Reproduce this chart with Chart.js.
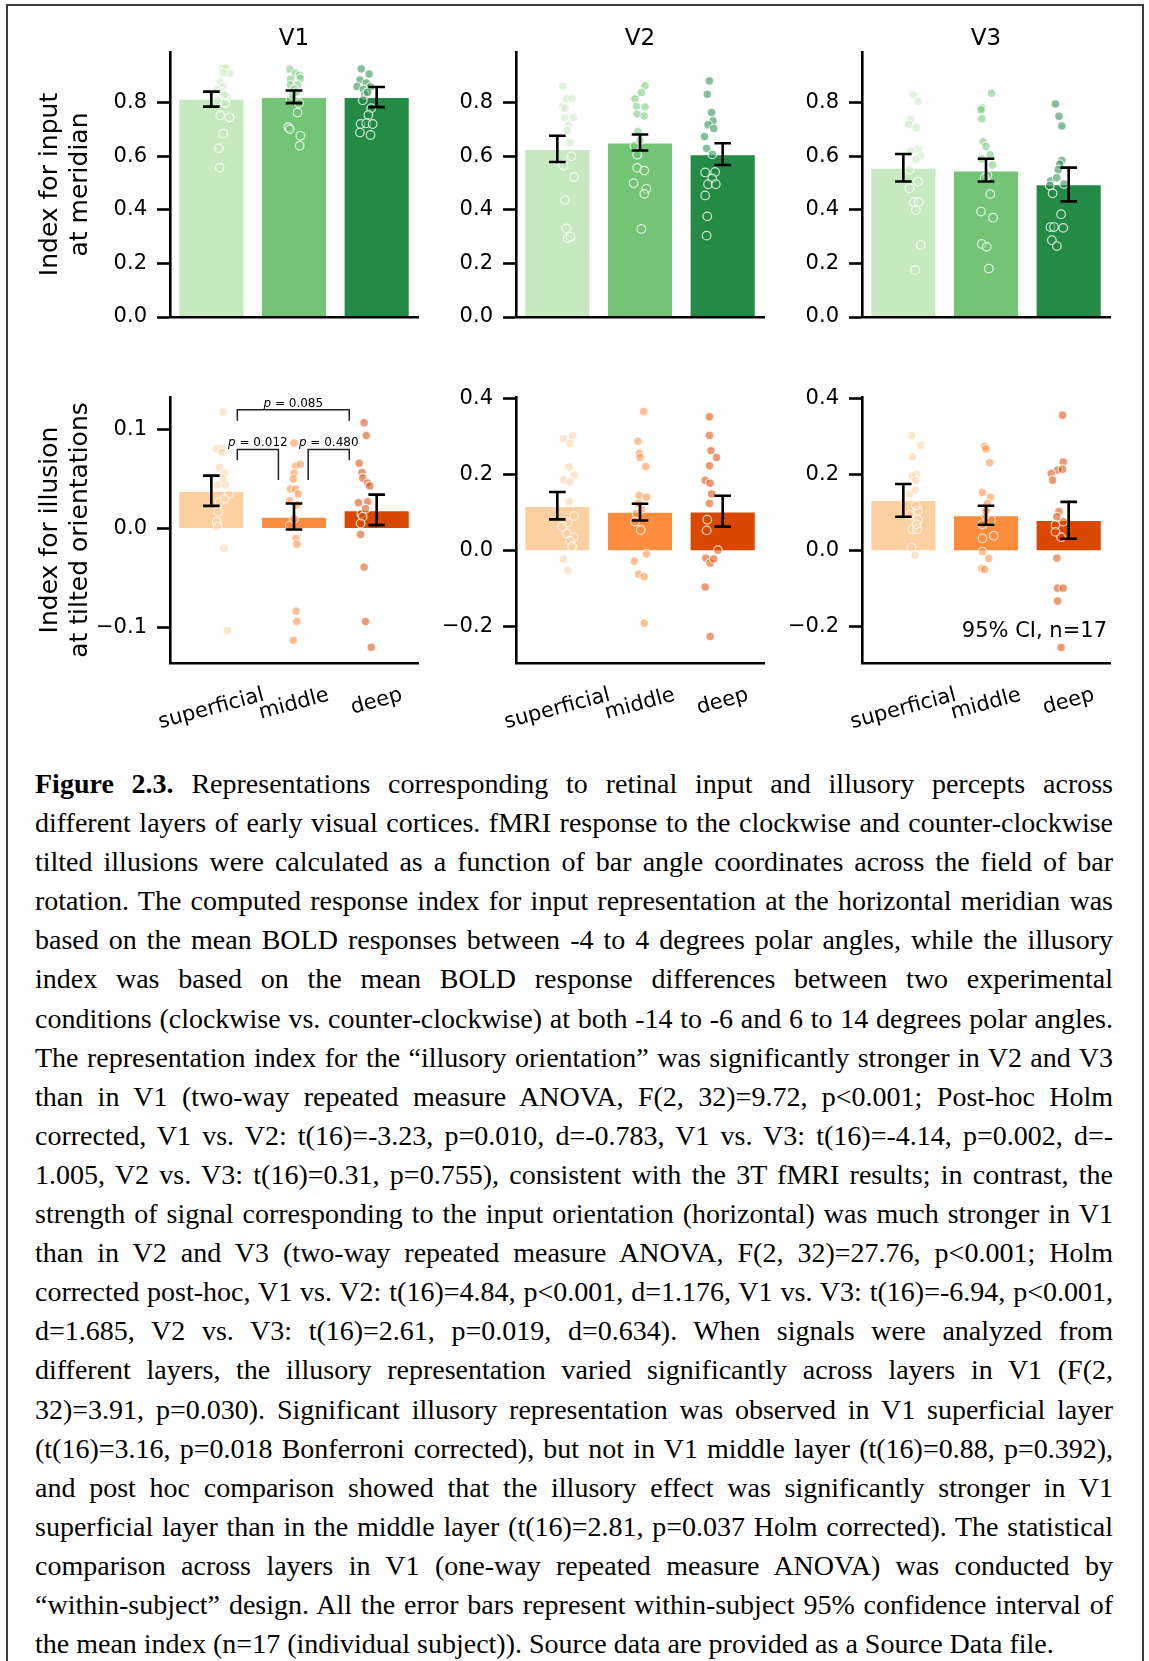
<!DOCTYPE html>
<html><head><meta charset="utf-8">
<script src="https://cdn.jsdelivr.net/npm/chart.js@4.4.0/dist/chart.umd.min.js"></script>
<style>
html,body{margin:0;padding:0;background:#fff;width:1149px;height:1661px;overflow:hidden;}
#frame{position:absolute;left:6px;top:4px;width:1138px;height:1700px;border:2px solid #3c3c3c;box-sizing:border-box;}
canvas{position:absolute;}
#caption{position:absolute;left:35px;top:764px;width:1078px;font-family:'Liberation Serif','Times New Roman',serif;font-size:28px;line-height:39.1px;color:#000;}
#caption div{text-align:justify;text-align-last:justify;}
#caption div.last{text-align-last:left;}
</style></head><body>
<div id="frame"></div>
<div id="caption">
<div><b>Figure 2.3.</b> Representations corresponding to retinal input and illusory percepts across</div>
<div>different layers of early visual cortices. fMRI response to the clockwise and counter-clockwise</div>
<div>tilted illusions were calculated as a function of bar angle coordinates across the field of bar</div>
<div>rotation. The computed response index for input representation at the horizontal meridian was</div>
<div>based on the mean BOLD responses between -4 to 4 degrees polar angles, while the illusory</div>
<div>index was based on the mean BOLD response differences between two experimental</div>
<div>conditions (clockwise vs. counter-clockwise) at both -14 to -6 and 6 to 14 degrees polar angles.</div>
<div>The representation index for the “illusory orientation” was significantly stronger in V2 and V3</div>
<div>than in V1 (two-way repeated measure ANOVA, F(2, 32)=9.72, p&lt;0.001; Post-hoc Holm</div>
<div>corrected, V1 vs. V2: t(16)=-3.23, p=0.010, d=-0.783, V1 vs. V3: t(16)=-4.14, p=0.002, d=-</div>
<div>1.005, V2 vs. V3: t(16)=0.31, p=0.755), consistent with the 3T fMRI results; in contrast, the</div>
<div>strength of signal corresponding to the input orientation (horizontal) was much stronger in V1</div>
<div>than in V2 and V3 (two-way repeated measure ANOVA, F(2, 32)=27.76, p&lt;0.001; Holm</div>
<div>corrected post-hoc, V1 vs. V2: t(16)=4.84, p&lt;0.001, d=1.176, V1 vs. V3: t(16)=-6.94, p&lt;0.001,</div>
<div>d=1.685, V2 vs. V3: t(16)=2.61, p=0.019, d=0.634). When signals were analyzed from</div>
<div>different layers, the illusory representation varied significantly across layers in V1 (F(2,</div>
<div>32)=3.91, p=0.030). Significant illusory representation was observed in V1 superficial layer</div>
<div>(t(16)=3.16, p=0.018 Bonferroni corrected), but not in V1 middle layer (t(16)=0.88, p=0.392),</div>
<div>and post hoc comparison showed that the illusory effect was significantly stronger in V1</div>
<div>superficial layer than in the middle layer (t(16)=2.81, p=0.037 Holm corrected). The statistical</div>
<div>comparison across layers in V1 (one-way repeated measure ANOVA) was conducted by</div>
<div>“within-subject” design. All the error bars represent within-subject 95% confidence interval of</div>
<div class="last">the mean index (n=17 (individual subject)). Source data are provided as a Source Data file.</div>
</div>
<script>
// ---------------- DATA ----------------
const layers = ['superficial', 'middle', 'deep'];
const regions = ['V1', 'V2', 'V3'];
const greens = ['#c7e9c0', '#74c476', '#238b45'];
const oranges = ['#fdd0a2', '#fd8d3c', '#d94801'];
const inputTicks = [0, 0.2, 0.4, 0.6, 0.8];
const illusionTicksV1 = [-0.1, 0, 0.1];
const illusionTicksV23 = [-0.2, 0, 0.2, 0.4];

// bar means and 95% CI (lower, upper)
const inputMeanV1 = [0.815, 0.822, 0.822];
const inputLoV1 = [0.786, 0.799, 0.784];
const inputHiV1 = [0.842, 0.846, 0.859];
const inputMeanV2 = [0.628, 0.652, 0.608];
const inputLoV2 = [0.579, 0.622, 0.568];
const inputHiV2 = [0.677, 0.682, 0.649];
const inputMeanV3 = [0.558, 0.547, 0.496];
const inputLoV3 = [0.506, 0.506, 0.432];
const inputHiV3 = [0.609, 0.591, 0.558];
const illusMeanV1 = [0.038, 0.0118, 0.0185];
const illusLoV1 = [0.0229, -0.001, 0.0034];
const illusHiV1 = [0.0535, 0.0253, 0.0343];
const illusMeanV2 = [0.118, 0.103, 0.104];
const illusLoV2 = [0.083, 0.080, 0.064];
const illusHiV2 = [0.155, 0.124, 0.145];
const illusMeanV3 = [0.134, 0.094, 0.081];
const illusLoV3 = [0.090, 0.069, 0.032];
const illusHiV3 = [0.176, 0.119, 0.129];

// individual subjects (n=17) and their horizontal strip offsets
const inputV1Sup = [0.930,0.930,0.910,0.913,0.876,0.859,0.851,0.824,0.810,0.800,0.840,0.753,0.746,0.685,0.630,0.558,0.830];
const inputV1SupJit = [0.00,0.04,0.10,0.00,-0.04,0.00,-0.09,0.06,-0.08,0.03,-0.02,-0.04,0.09,0.00,-0.06,-0.05,0.02];
const inputV1Mid = [0.926,0.911,0.903,0.888,0.891,0.867,0.867,0.851,0.811,0.799,0.764,0.709,0.702,0.677,0.640,0.830,0.840];
const inputV1MidJit = [-0.06,0.02,0.08,-0.05,0.09,-0.05,0.05,0.01,-0.05,0.07,0.05,-0.08,-0.06,0.09,0.08,-0.02,0.03];
const inputV1Deep = [0.927,0.908,0.886,0.874,0.861,0.859,0.850,0.780,0.755,0.721,0.724,0.721,0.689,0.680,0.830,0.810,0.840];
const inputV1DeepJit = [-0.05,0.06,-0.07,0.02,-0.11,0.08,-0.02,0.09,0.05,-0.06,0.02,0.11,-0.07,0.08,0.00,-0.03,0.04];
const inputV2Sup = [0.862,0.816,0.816,0.785,0.780,0.745,0.745,0.718,0.697,0.566,0.523,0.437,0.331,0.294,0.300,0.650,0.600];
const inputV2SupJit = [-0.09,-0.04,0.04,-0.09,-0.06,-0.06,0.06,-0.01,-0.03,-0.08,0.07,-0.06,-0.04,-0.02,0.02,0.01,0.03];
const inputV2Mid = [0.864,0.839,0.815,0.786,0.785,0.759,0.751,0.693,0.641,0.606,0.557,0.547,0.500,0.479,0.460,0.329,0.660];
const inputV2MidJit = [0.07,0.02,-0.07,-0.05,0.07,-0.04,0.06,-0.03,-0.08,-0.04,-0.04,0.06,-0.09,0.09,0.06,0.02,0.00];
const inputV2Deep = [0.882,0.832,0.764,0.733,0.718,0.704,0.674,0.630,0.608,0.540,0.542,0.518,0.496,0.496,0.454,0.376,0.304];
const inputV2DeepJit = [-0.02,-0.05,0.01,0.03,-0.04,0.04,-0.09,-0.06,0.02,-0.08,0.06,0.02,-0.04,0.07,-0.08,-0.05,-0.06];
const inputV3Sup = [0.830,0.805,0.739,0.719,0.707,0.627,0.620,0.602,0.550,0.506,0.481,0.429,0.429,0.399,0.269,0.176,0.590];
const inputV3SupJit = [-0.03,0.04,-0.06,-0.09,0.02,0.04,-0.06,0.08,-0.08,0.04,-0.08,-0.02,0.05,0.01,0.08,0.00,0.01];
const inputV3Mid = [0.836,0.781,0.774,0.741,0.655,0.637,0.606,0.568,0.590,0.459,0.394,0.371,0.273,0.262,0.181,0.530,0.520];
const inputV3MidJit = [0.08,-0.06,-0.07,-0.06,-0.04,0.00,0.06,0.09,-0.06,0.06,-0.07,0.10,-0.06,0.01,0.04,0.02,-0.02];
const inputV3Deep = [0.796,0.750,0.714,0.585,0.571,0.508,0.491,0.497,0.462,0.384,0.336,0.336,0.333,0.287,0.265,0.550,0.520];
const inputV3DeepJit = [-0.02,0.03,0.07,0.07,0.04,-0.09,-0.10,0.10,-0.06,0.06,-0.09,-0.04,0.09,-0.07,0.00,0.02,0.00];

const illusV1Sup = [0.118,0.081,0.081,0.077,0.062,0.056,0.044,0.044,-0.103,-0.020,0.035,0.027,0.017,0.007,0.002,0.050,0.030];
const illusV1SupJit = [0.00,-0.10,-0.01,-0.02,-0.05,0.02,-0.08,0.03,0.06,0.01,0.08,-0.05,-0.07,-0.09,-0.08,0.00,0.02];
const illusV1Mid = [0.0865,0.063,0.065,0.056,0.050,0.040,0.040,0.035,0.028,0.024,-0.010,-0.016,-0.0835,-0.094,-0.113,0.003,0.010];
const illusV1MidJit = [0.00,0.02,0.09,0.00,-0.01,-0.05,0.02,0.06,-0.06,0.04,0.03,0.04,0.03,0.04,-0.01,-0.06,0.00];
const illusV1Deep = [0.107,0.094,0.066,0.0566,0.051,0.046,0.043,0.026,0.027,-0.006,-0.039,-0.094,-0.120,0.015,0.012,0.005,0.020];
const illusV1DeepJit = [-0.01,0.02,-0.08,-0.04,-0.03,0.04,0.07,-0.09,0.04,-0.06,-0.01,0.01,0.09,-0.05,-0.03,-0.06,0.01];
const illusV2Sup = [0.304,0.295,0.283,0.221,0.200,0.187,0.182,-0.021,-0.051,0.092,0.075,0.064,0.046,0.036,0.027,0.011,0.130];
const illusV2SupJit = [0.05,-0.08,0.01,0.00,0.07,-0.08,0.01,-0.08,-0.02,0.07,-0.02,-0.10,-0.03,0.06,0.01,0.04,0.00];
const illusV2Mid = [0.367,0.289,0.257,0.246,0.222,0.146,0.141,-0.008,-0.027,-0.061,-0.068,-0.190,0.077,0.099,0.055,0.110,0.125];
const illusV2MidJit = [0.05,-0.03,-0.01,0.00,0.08,-0.01,0.09,0.09,-0.08,-0.02,0.06,0.06,-0.07,-0.05,0.01,0.02,-0.02];
const illusV2Deep = [0.353,0.304,0.264,0.246,0.224,0.186,0.178,0.150,0.125,-0.019,-0.032,-0.021,-0.095,-0.225,0.082,0.054,0.002];
const illusV2DeepJit = [-0.02,-0.02,0.00,0.08,-0.02,-0.08,-0.01,0.01,-0.02,-0.07,-0.01,0.04,-0.08,-0.01,-0.05,-0.06,0.10];
const illusV3Sup = [0.304,0.278,0.248,0.202,0.197,0.185,0.150,-0.011,0.095,0.106,0.082,0.057,0.057,0.009,0.120,0.160,0.070];
const illusV3SupJit = [-0.05,0.08,-0.04,0.02,-0.04,0.01,-0.08,0.00,-0.08,0.04,0.04,-0.04,0.03,-0.05,0.01,0.00,0.02];
const illusV3Mid = [0.275,0.268,0.232,0.154,0.141,0.125,-0.002,-0.020,-0.046,-0.049,0.082,0.070,0.040,0.033,0.095,0.110,0.105];
const illusV3MidJit = [-0.02,0.00,0.05,-0.05,0.06,0.02,-0.05,0.04,-0.06,-0.02,0.07,-0.05,0.11,-0.05,-0.01,0.01,0.00];
const illusV3Deep = [0.357,0.234,0.213,0.215,0.204,0.186,0.104,-0.019,-0.098,-0.098,-0.132,-0.254,0.077,0.068,0.036,0.090,0.050];
const illusV3DeepJit = [0.08,0.09,0.01,0.08,-0.08,-0.06,0.03,0.00,0.01,0.09,0.01,0.06,0.09,-0.02,0.06,0.00,-0.02];

// V1 illusion: pairwise comparisons [layer i, layer j, p-value]
const sigPairs = [[0, 1, '0.012'], [1, 2, '0.480'], [0, 2, '0.085']];
const ciNote = '95% CI, n=17';

// ---------------- DRAWING ----------------
Chart.defaults.font.family = "'DejaVu Sans', sans-serif";
Chart.defaults.color = '#000';
const FONT = "'DejaVu Sans', sans-serif";

function fmtTick(v) {
  const s = (Math.abs(v) < 1e-9 ? 0 : v).toFixed(1);
  return s.replace('-', '\u2212');
}
function hexA(hex, a) {
  const r = parseInt(hex.slice(1, 3), 16), g = parseInt(hex.slice(3, 5), 16), b = parseInt(hex.slice(5, 7), 16);
  return 'rgba(' + r + ',' + g + ',' + b + ',' + a + ')';
}

// bracket geometry (values in data units) for the V1 illusion panel
const bracketStyle = [
  {top: 0.080, left: 0.069, right: 0.049},
  {top: 0.080, left: 0.049, right: 0.069},
  {top: 0.120, left: 0.109, right: 0.109}
];

function makeDecor(p) {
  return {
    id: 'decor',
    afterDatasetsDraw(chart) {
      const ctx = chart.ctx, ys = chart.scales.y, xs = chart.scales.x;
      ctx.save();
      ctx.strokeStyle = '#000'; ctx.lineWidth = 2.6; ctx.lineCap = 'butt';
      for (let i = 0; i < 3; i++) {
        const x = xs.getPixelForValue(i);
        const yl = ys.getPixelForValue(p.lo[i]), yh = ys.getPixelForValue(p.hi[i]);
        ctx.beginPath();
        ctx.moveTo(x, yl); ctx.lineTo(x, yh);
        ctx.moveTo(x - 8.3, yl); ctx.lineTo(x + 8.3, yl);
        ctx.moveTo(x - 8.3, yh); ctx.lineTo(x + 8.3, yh);
        ctx.stroke();
      }
      ctx.restore();
    },
    afterDraw(chart) {
      const ctx = chart.ctx, ca = chart.chartArea, xs = chart.scales.x, ys = chart.scales.y, xj = chart.scales.xj;
      ctx.save();
      ctx.fillStyle = '#000';
      if (p.title) {
        ctx.font = '23px ' + FONT;
        ctx.textAlign = 'center'; ctx.textBaseline = 'alphabetic';
        ctx.fillText(p.title, (ca.left + ca.right) / 2, ca.top - 7.5);
      }
      if (p.ylabel) {
        ctx.font = '25px ' + FONT;
        const cy = (ca.top + ca.bottom) / 2;
        p.ylabel.forEach((line, k) => {
          ctx.save();
          ctx.translate(ca.left - 113.3 + k * 30.6, cy);
          ctx.rotate(-Math.PI / 2);
          ctx.textAlign = 'center'; ctx.textBaseline = 'alphabetic';
          ctx.fillText(line, 0, 0);
          ctx.restore();
        });
      }
      if (p.xlabels) {
        ctx.font = '21px ' + FONT;
        const th = 15 * Math.PI / 180;
        layers.forEach((lab, i) => {
          const x = xs.getPixelForValue(i);
          const w = ctx.measureText(lab).width;
          const bh = w * Math.sin(th) + 21 * 1.17 * Math.cos(th);
          const cy = ca.bottom + 20 + bh / 2;
          ctx.save();
          ctx.translate(x, cy); ctx.rotate(-th);
          ctx.textAlign = 'center'; ctx.textBaseline = 'middle';
          ctx.fillText(lab, 0, 0);
          ctx.restore();
        });
      }
      if (p.brackets) {
        ctx.strokeStyle = '#222'; ctx.lineWidth = 1.5;
        sigPairs.forEach((sp, k) => {
          const g = bracketStyle[k];
          const x1 = xj.getPixelForValue(sp[0] + 0.2), x2 = xj.getPixelForValue(sp[1] - 0.22);
          const yt = ys.getPixelForValue(g.top), yl = ys.getPixelForValue(g.left), yr = ys.getPixelForValue(g.right);
          ctx.beginPath();
          ctx.moveTo(x1, yl); ctx.lineTo(x1, yt); ctx.lineTo(x2, yt); ctx.lineTo(x2, yr);
          ctx.stroke();
          ctx.font = 'italic 12px ' + FONT;
          const wp = ctx.measureText('p').width;
          ctx.font = '12px ' + FONT;
          const rest = ' = ' + sp[2];
          const wr = ctx.measureText(rest).width;
          const x0 = (x1 + x2) / 2 - (wp + wr) / 2;
          ctx.textAlign = 'left'; ctx.textBaseline = 'alphabetic';
          ctx.font = 'italic 12px ' + FONT;
          ctx.fillText('p', x0, yt - 3);
          ctx.font = '12px ' + FONT;
          ctx.fillText(rest, x0 + wp, yt - 3);
        });
      }
      if (p.note) {
        ctx.font = '21px ' + FONT;
        ctx.textAlign = 'right'; ctx.textBaseline = 'alphabetic';
        ctx.fillText(p.note, ca.right - 3, ca.bottom - 26);
      }
      ctx.restore();
    }
  };
}

const topRow = {top: 0, height: 340, padTop: 52, xHeight: 23, min: 0, max: 0.99};
const panels = [
  {axisX: 170, row: topRow, title: 'V1', ylabel: ['Index for input', 'at meridian'], colors: greens, ticks: inputTicks,
   mean: inputMeanV1, lo: inputLoV1, hi: inputHiV1, subj: [inputV1Sup, inputV1Mid, inputV1Deep], jit: [inputV1SupJit, inputV1MidJit, inputV1DeepJit]},
  {axisX: 516, row: topRow, title: 'V2', colors: greens, ticks: inputTicks,
   mean: inputMeanV2, lo: inputLoV2, hi: inputHiV2, subj: [inputV2Sup, inputV2Mid, inputV2Deep], jit: [inputV2SupJit, inputV2MidJit, inputV2DeepJit]},
  {axisX: 862, row: topRow, title: 'V3', colors: greens, ticks: inputTicks,
   mean: inputMeanV3, lo: inputLoV3, hi: inputHiV3, subj: [inputV3Sup, inputV3Mid, inputV3Deep], jit: [inputV3SupJit, inputV3MidJit, inputV3DeepJit]},
  {axisX: 170, row: {top: 370, height: 380, padTop: 27, xHeight: 87, min: -0.136, max: 0.133}, ylabel: ['Index for illusion', 'at tilted orientations'],
   colors: oranges, ticks: illusionTicksV1, xlabels: true, brackets: true,
   mean: illusMeanV1, lo: illusLoV1, hi: illusHiV1, subj: [illusV1Sup, illusV1Mid, illusV1Deep], jit: [illusV1SupJit, illusV1MidJit, illusV1DeepJit]},
  {axisX: 516, row: {top: 370, height: 380, padTop: 27, xHeight: 87, min: -0.295, max: 0.405},
   colors: oranges, ticks: illusionTicksV23, xlabels: true,
   mean: illusMeanV2, lo: illusLoV2, hi: illusHiV2, subj: [illusV2Sup, illusV2Mid, illusV2Deep], jit: [illusV2SupJit, illusV2MidJit, illusV2DeepJit]},
  {axisX: 862, row: {top: 370, height: 380, padTop: 27, xHeight: 87, min: -0.295, max: 0.405},
   colors: oranges, ticks: illusionTicksV23, xlabels: true, note: ciNote,
   mean: illusMeanV3, lo: illusLoV3, hi: illusHiV3, subj: [illusV3Sup, illusV3Mid, illusV3Deep], jit: [illusV3SupJit, illusV3MidJit, illusV3DeepJit]}
];

const YW = 165, RPAD = 12, CW = YW + 248 + RPAD;
panels.forEach(p => {
  const cv = document.createElement('canvas');
  cv.width = CW; cv.height = p.row.height;
  cv.style.left = (p.axisX - YW) + 'px';
  cv.style.top = p.row.top + 'px';
  cv.style.width = CW + 'px'; cv.style.height = p.row.height + 'px';
  document.body.appendChild(cv);
  const datasets = [{
    type: 'bar', data: p.mean, backgroundColor: p.colors,
    borderColor: 'rgba(255,255,255,0.55)', borderWidth: 1, grouped: false,
    categoryPercentage: 1.0, barPercentage: 0.8, xAxisID: 'x', yAxisID: 'y', order: 2
  }];
  p.subj.forEach((vals, k) => {
    datasets.push({
      type: 'scatter', xAxisID: 'xj', yAxisID: 'y', order: 1, showLine: false,
      data: vals.map((v, n) => ({x: k + p.jit[k][n], y: v})),
      pointRadius: 4.3, pointHoverRadius: 4.3,
      pointBackgroundColor: hexA(p.colors[k], 0.55),
      pointBorderColor: 'rgba(255,255,255,0.8)', pointBorderWidth: 1.2
    });
  });
  new Chart(cv, {
    type: 'bar',
    data: {labels: layers, datasets: datasets},
    options: {
      responsive: false, animation: false, devicePixelRatio: 1, events: [],
      layout: {padding: {left: 0, right: RPAD, top: p.row.padTop, bottom: 0}},
      plugins: {legend: {display: false}, tooltip: {enabled: false}, title: {display: false}},
      scales: {
        x: {type: 'category', offset: true, grid: {display: false},
            border: {display: true, color: '#000', width: 2.6, z: 1},
            ticks: {display: false},
            afterFit: s => { s.height = p.row.xHeight; }},
        xj: {type: 'linear', display: false, min: -0.5, max: 2.5},
        y: {type: 'linear', min: p.row.min, max: p.row.max, bounds: 'data',
            grid: {display: true, drawOnChartArea: false, drawTicks: true, tickLength: 13, tickWidth: 2.6, tickColor: '#000', color: '#000'},
            border: {display: true, color: '#000', width: 2.6, z: 1},
            ticks: {font: {size: 21, family: FONT}, color: '#000', padding: 10, callback: v => fmtTick(v)},
            afterBuildTicks: s => { s.ticks = p.ticks.map(v => ({value: v})); },
            afterFit: s => { s.width = YW; }}
      }
    },
    plugins: [makeDecor(p)]
  });
});
</script>
</body></html>
